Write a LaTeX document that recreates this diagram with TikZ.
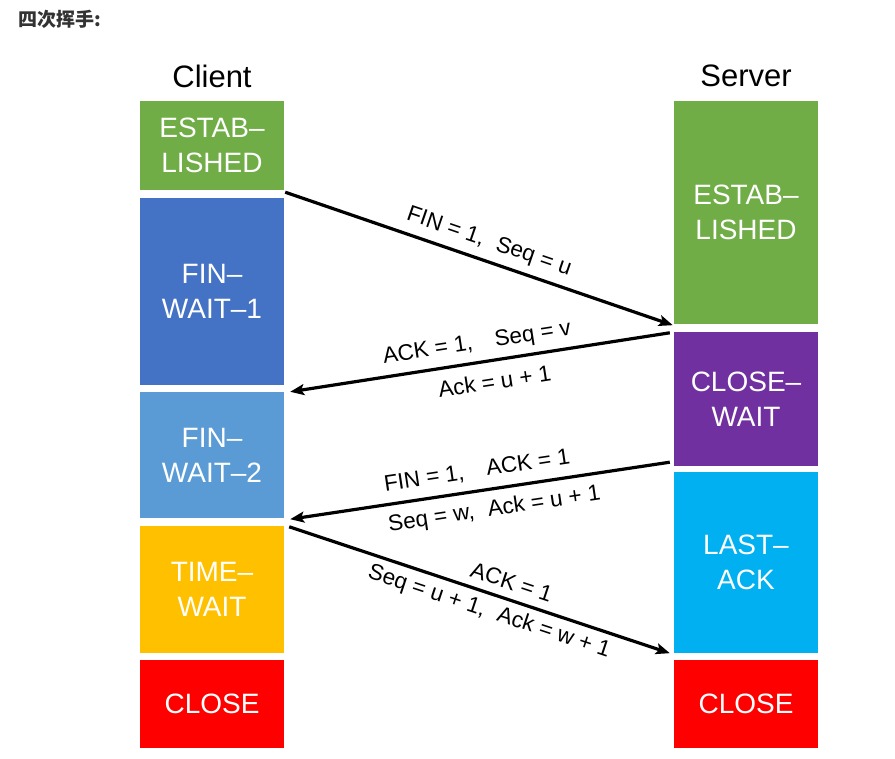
\documentclass[tikz,border=0pt]{standalone}
\usepackage{fontspec}
\setmainfont{Liberation Sans}
\newfontfamily\cjkfont{Noto Sans CJK SC}
\usetikzlibrary{arrows.meta}
\definecolor{cgreen}{HTML}{70AD47}
\definecolor{cblue}{HTML}{4472C4}
\definecolor{clblue}{HTML}{5B9BD5}
\definecolor{cyellow}{HTML}{FFC000}
\definecolor{cred}{HTML}{FF0000}
\definecolor{cpurple}{HTML}{7030A0}
\definecolor{ccyan}{HTML}{00B0F0}
\definecolor{ctitle}{HTML}{333333}
\tikzset{
  statebox/.style={rectangle, inner sep=0pt, minimum width=144pt, text=white, align=center,
    font=\fontsize{28}{35}\selectfont},
  msg/.style={line width=3.2pt, -{Stealth[length=14pt,width=11pt,inset=3pt]}},
  lbl/.style={sloped, inner sep=0pt, font=\fontsize{22.5}{26}\selectfont},
  head/.style={font=\fontsize{31}{34}\selectfont}
}
\begin{document}
\begin{tikzpicture}[x=1pt,y=-1pt]
\useasboundingbox (0,0) rectangle (895,759);
\node[anchor=west, text=ctitle, font=\cjkfont\bfseries\fontsize{19}{22}\selectfont] (title) at (15,19) {四次挥手:};
\node[head] (client) at (212,76) {Client};
\node[head] (server) at (746,76) {Server};
% client column
\node[statebox, fill=cgreen,  minimum height=89pt]  (cE)  at (212,145.5) {ESTAB–\\LISHED};
\node[statebox, fill=cblue,   minimum height=187pt] (cF1) at (212,291.5) {FIN–\\WAIT–1};
\node[statebox, fill=clblue,  minimum height=126pt] (cF2) at (212,455)   {FIN–\\WAIT–2};
\node[statebox, fill=cyellow, minimum height=127pt] (cT)  at (212,589.5) {TIME–\\WAIT};
\node[statebox, fill=cred,    minimum height=88pt]  (cC)  at (212,704)   {CLOSE};
% server column
\node[statebox, fill=cgreen,  minimum height=223pt] (sE)  at (746,212.5) {ESTAB–\\LISHED};
\node[statebox, fill=cpurple, minimum height=134pt] (sCW) at (746,399)   {CLOSE–\\WAIT};
\node[statebox, fill=ccyan,   minimum height=181pt] (sLA) at (746,562.5) {LAST–\\ACK};
\node[statebox, fill=cred,    minimum height=88pt]  (sC)  at (746,704)   {CLOSE};
% messages
\draw[msg] ([shift={(1,2)}]cE.south east) -- ([shift={(-1,1)}]sE.south west)
  node[lbl, pos=0.51, above=7pt] (m1) {FIN = 1,\hspace{0.6em}Seq = u};
\draw[msg] ([shift={(-4,1)}]sCW.north west) -- ([shift={(6,0)}]cF2.north east)
  node[lbl, pos=0.5, above=7pt] (m2a) {ACK = 1,\hspace{1em}Seq = v}
  node[lbl, pos=0.47, below=11pt] (m2b) {Ack = u + 1};
\draw[msg] ([shift={(-4,-4)}]sCW.south west) -- ([shift={(6,1)}]cF2.south east)
  node[lbl, pos=0.5, above=9pt] (m3a) {FIN = 1,\hspace{1em}ACK = 1}
  node[lbl, pos=0.47, below=9pt] (m3b) {Seq = w,\hspace{0.6em}Ack = u + 1};
\draw[msg] ([shift={(5,1)}]cT.north east) -- ([shift={(-4,0)}]sLA.south west)
  node[lbl, pos=0.57, above=8pt] (m4a) {ACK = 1}
  node[lbl, pos=0.54, below=6pt] (m4b) {Seq = u + 1,\hspace{0.6em}Ack = w + 1};
\end{tikzpicture}
\end{document}
